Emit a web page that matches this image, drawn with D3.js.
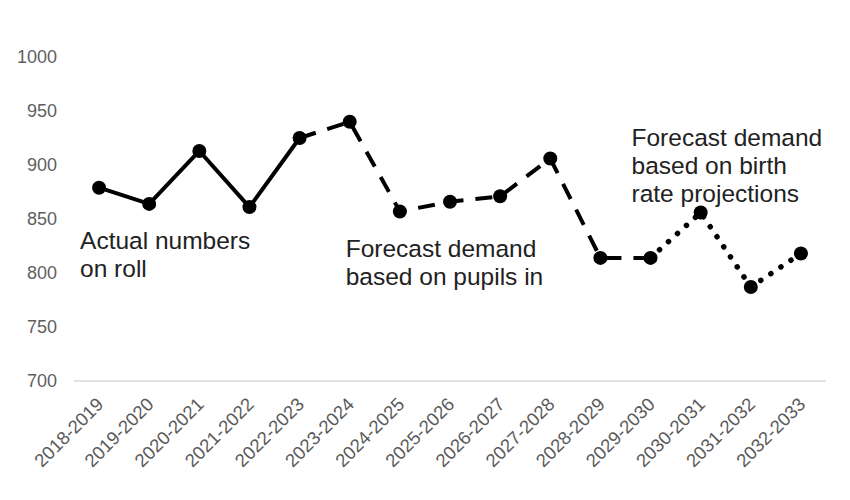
<!DOCTYPE html>
<html>
<head>
<meta charset="utf-8">
<script src="https://cdn.jsdelivr.net/npm/d3@7"></script>
<style>
  body { margin: 0; background: #fff; }
  svg { font-family: "Liberation Sans", Arial, sans-serif; }
</style>
</head>
<body>
<svg id="canvas"></svg>
<script>
let width = 850
let height = 500

// school years on the x axis
let years = ['2018-2019', '2019-2020', '2020-2021', '2021-2022', '2022-2023',
             '2023-2024', '2024-2025', '2025-2026', '2026-2027', '2027-2028',
             '2028-2029', '2029-2030', '2030-2031', '2031-2032', '2032-2033']
// pupils
let pupils = [879, 864, 913, 861, 925, 940, 857, 866, 871, 906, 814, 814, 856, 787, 818]
let yTicks = [700, 750, 800, 850, 900, 950, 1000]

// which stretch of the line is drawn in which style (index ranges)
let segments = [
  { from: 0, to: 4, dash: null },
  { from: 4, to: 11, dash: '17,12' },
  { from: 11, to: 14, dash: 'dot' }
]

// text boxes, anchored to a year and a value on the y scale
let notes = [
  { lines: ['Actual numbers', 'on roll'], year: '2018-2019', value: 822 },
  { lines: ['Forecast demand', 'based on pupils in'], year: '2023-2024', value: 815 },
  { lines: ['Forecast demand', 'based on birth', 'rate projections'], year: '2029-2030', value: 917.5 }
]
let noteShift = [-19, -4, -19]

let canvas = d3.select('#canvas')
canvas.attr('width', width)
      .attr('height', height)

let xScale = d3.scaleBand()
               .domain(years)
               .range([74, 826])
let yScale = d3.scaleLinear()
               .domain([700, 1000])
               .range([381, 57])
let cx = (d) => xScale(d) + xScale.bandwidth() / 2

/*y labels*/
canvas.append('g')
      .selectAll('text')
      .data(yTicks)
      .enter()
      .append('text')
      .attr('x', 57)
      .attr('y', (d) => yScale(d))
      .attr('dy', '0.35em')
      .attr('text-anchor', 'end')
      .attr('font-size', 18)
      .attr('fill', '#5f5f5f')
      .text((d) => d)

/*baseline*/
canvas.append('line')
      .attr('x1', xScale.range()[0])
      .attr('x2', xScale.range()[1])
      .attr('y1', yScale(700))
      .attr('y2', yScale(700))
      .attr('stroke', '#d9d9d9')
      .attr('stroke-width', 1.5)

/*x labels*/
canvas.append('g')
      .selectAll('text')
      .data(years)
      .enter()
      .append('text')
      .attr('transform', (d) => 'translate(' + (cx(d) + 1) + ',' + 401 + ') rotate(-45)')
      .attr('text-anchor', 'end')
      .attr('dy', '0.35em')
      .attr('font-size', 18.5)
      .attr('fill', '#5a5a5a')
      .text((d) => d)

/*lines*/
let line = d3.line()
             .x((i) => cx(years[i]))
             .y((i) => yScale(pupils[i]))

segments.forEach((s) => {
  let idx = d3.range(s.from, s.to + 1)
  let p = canvas.append('path')
                .attr('d', line(idx))
                .attr('fill', 'none')
                .attr('stroke', '#000')
  if (s.dash === 'dot') {
    p.attr('stroke-width', 5.5)
     .attr('stroke-linecap', 'round')
     .attr('stroke-dasharray', '0.1,12')
  } else {
    p.attr('stroke-width', 4)
     .attr('stroke-linejoin', 'round')
    if (s.dash) p.attr('stroke-dasharray', s.dash)
  }
})

/*markers*/
canvas.append('g')
      .selectAll('circle')
      .data(pupils)
      .enter()
      .append('circle')
      .attr('cx', (d, i) => cx(years[i]))
      .attr('cy', (d) => yScale(d))
      .attr('r', 7)
      .attr('fill', '#000')

/*annotations*/
notes.forEach((n, k) => {
  let x0 = cx(n.year) + noteShift[k]
  let t = canvas.append('text')
                .attr('x', x0)
                .attr('y', yScale(n.value))
                .attr('font-size', 24.5)
                .attr('fill', '#222')
  t.selectAll('tspan')
   .data(n.lines)
   .enter()
   .append('tspan')
   .attr('x', x0)
   .attr('dy', (d, i) => i === 0 ? 0 : 28)
   .text((d) => d)
})
</script>
</body>
</html>
